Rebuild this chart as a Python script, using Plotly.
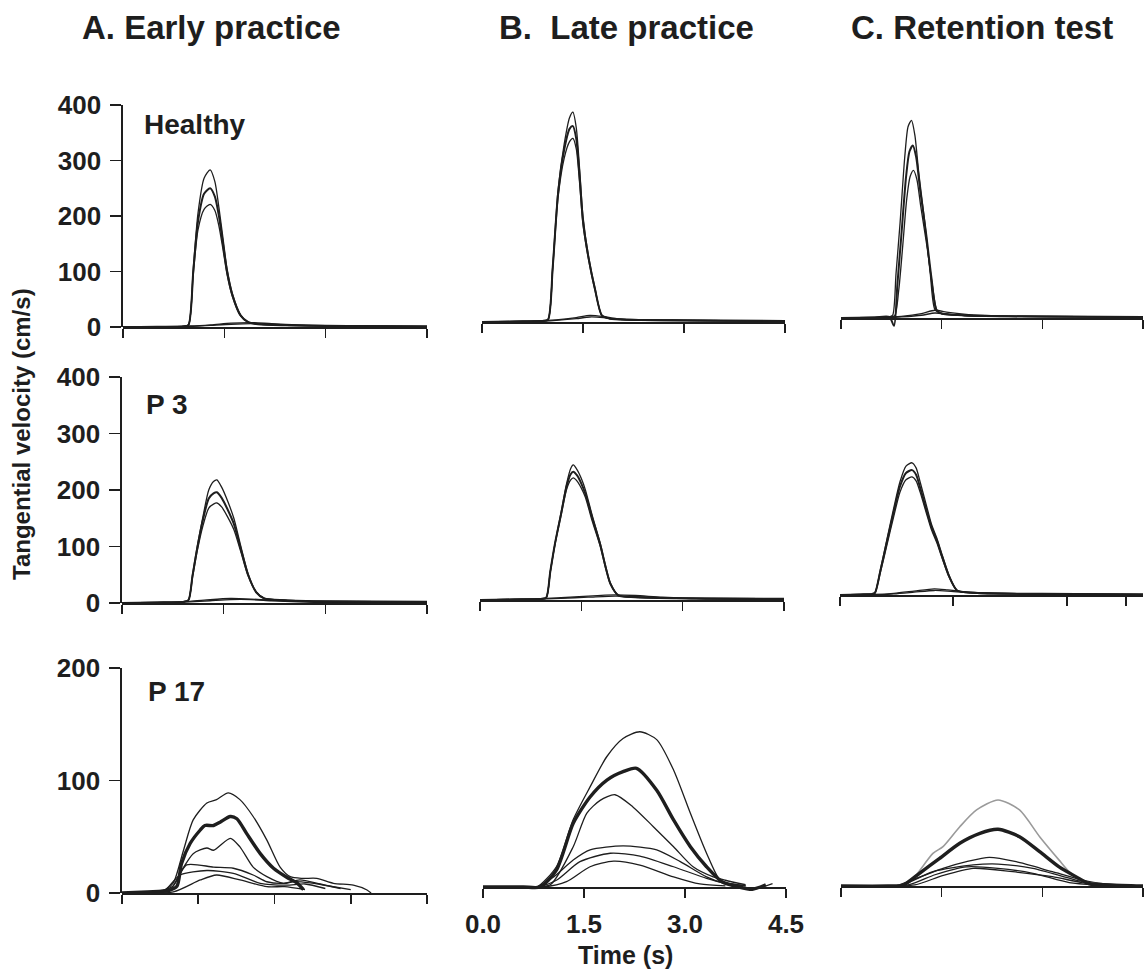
import plotly.graph_objects as go

W, H = 1144, 974
FONT = "Liberation Sans, Arial, Helvetica, sans-serif"
INK = "#1e1e1e"

# ---------------- data: time (s) and tangential velocity (cm/s) ----------------
# Healthy - early practice
hA_t = [0, 0.5, 0.9, 0.97, 1.04, 1.11, 1.2, 1.29, 1.36, 1.42, 1.48, 1.54, 1.62, 1.74, 1.85, 2.0, 2.4, 3.0, 4.5]
hA_v1 = [0, 0, 1, 4, 105, 205, 268, 283, 262, 215, 160, 105, 60, 22, 9, 5, 3, 2, 1]
hA_v2 = [0, 0, 1, 4, 100, 190, 240, 250, 235, 200, 150, 100, 57, 21, 9, 5, 3, 2, 1]
hA_v3 = [0, 0, 1, 4, 95, 175, 212, 221, 210, 182, 140, 95, 55, 20, 9, 5, 3, 2, 1]
hA_ts = [0, 0.5, 1.0, 1.3, 1.6, 1.9, 2.2, 2.6, 3.0, 3.6, 4.5]
hA_s1 = [0, 1, 2, 4, 7, 8, 6, 4, 3, 2, 1]
hA_s2 = [0, 0, 1, 3, 5, 6, 5, 3, 2, 1, 0]

# Healthy - late practice
hB_t = [0, 0.5, 0.9, 0.98, 1.05, 1.13, 1.22, 1.30, 1.35, 1.40, 1.45, 1.50, 1.58, 1.68, 1.78, 1.9, 2.2, 3.0, 4.5]
hB_v1 = [0, 1, 2, 4, 100, 238, 320, 368, 378, 350, 275, 190, 120, 60, 12, 6, 4, 3, 2]
hB_v2 = [0, 1, 2, 4, 98, 232, 310, 348, 353, 330, 262, 182, 117, 58, 12, 6, 4, 3, 2]
hB_v3 = [0, 1, 2, 4, 95, 225, 295, 325, 331, 312, 250, 176, 114, 56, 12, 6, 4, 3, 2]
hB_ts = [0, 0.8, 1.1, 1.4, 1.6, 1.8, 2.0, 2.4, 3.0, 4.5]
hB_s1 = [0, 2, 4, 8, 12, 10, 6, 4, 3, 2]
hB_s2 = [0, 1, 3, 6, 9, 8, 5, 3, 2, 1]

# Healthy - retention test
hC_t1 = [0, 0.5, 0.72, 0.77, 0.82, 0.88, 0.95, 1.0, 1.05, 1.1, 1.16, 1.25, 1.33, 1.40, 1.5, 1.8, 2.5, 4.5]
hC_v1 = [0, 1, 2, 5, 80, 171, 290, 345, 356, 330, 260, 171, 80, 15, 8, 5, 3, 2]
hC_t2 = [0, 0.5, 0.72, 0.79, 0.84, 0.90, 0.97, 1.02, 1.07, 1.12, 1.18, 1.27, 1.35, 1.42, 1.5, 1.8, 2.5, 4.5]
hC_v2 = [0, 1, 2, -14, 60, 150, 255, 300, 311, 290, 230, 150, 70, 15, 8, 5, 3, 2]
hC_t3 = [0, 0.5, 0.72, 0.80, 0.86, 0.92, 0.98, 1.03, 1.08, 1.13, 1.19, 1.28, 1.36, 1.43, 1.5, 1.8, 2.5, 4.5]
hC_v3 = [0, 1, 2, 4, 50, 130, 215, 255, 266, 250, 200, 130, 60, 14, 8, 5, 3, 2]
hC_ts = [0, 0.6, 0.9, 1.2, 1.4, 1.6, 1.9, 2.3, 3.0, 4.5]
hC_s1 = [0, 1, 3, 8, 14, 10, 6, 4, 3, 2]
hC_s2 = [0, 0, 2, 5, 9, 7, 4, 3, 2, 1]

# P 3 - early practice
pA_t = [0, 0.5, 0.9, 0.98, 1.04, 1.11, 1.19, 1.28, 1.35, 1.40, 1.47, 1.56, 1.65, 1.75, 1.86, 1.98, 2.1, 2.4, 3.0, 4.5]
pA_v1 = [0, 1, 2, 5, 50, 100, 150, 200, 215, 218, 205, 180, 150, 102, 52, 20, 8, 5, 3, 2]
pA_v2 = [0, 1, 2, 5, 48, 97, 145, 185, 194, 196, 186, 165, 140, 97, 50, 19, 8, 5, 3, 2]
pA_v3 = [0, 1, 2, 5, 45, 92, 135, 168, 175, 177, 170, 152, 130, 92, 48, 19, 8, 5, 3, 2]
pA_ts = [0, 0.6, 1.0, 1.3, 1.6, 1.9, 2.2, 2.6, 3.0, 4.5]
pA_s1 = [0, 1, 3, 6, 8, 7, 5, 3, 2, 1]
pA_s2 = [0, 0, 2, 4, 6, 6, 4, 2, 1, 0]

# P 3 - late practice
pB_t = [0, 0.5, 0.9, 0.98, 1.04, 1.11, 1.20, 1.28, 1.34, 1.38, 1.44, 1.50, 1.56, 1.66, 1.78, 1.86, 1.93, 2.05, 2.3, 3.0, 4.5]
pB_v1 = [0, 1, 2, 4, 50, 100, 155, 205, 232, 239, 230, 215, 195, 150, 100, 60, 30, 8, 5, 3, 2]
pB_v2 = [0, 1, 2, 4, 50, 100, 152, 200, 222, 227, 220, 206, 188, 146, 98, 58, 29, 8, 5, 3, 2]
pB_v3 = [0, 1, 2, 4, 49, 98, 150, 195, 212, 216, 210, 198, 182, 140, 95, 56, 28, 8, 5, 3, 2]
pB_ts = [0, 0.8, 1.2, 1.6, 2.0, 2.3, 2.7, 3.2, 4.5]
pB_s1 = [0, 2, 4, 7, 9, 8, 5, 3, 2]
pB_s2 = [0, 1, 3, 5, 7, 6, 4, 2, 1]

# P 3 - retention test
pC_t = [0, 0.3, 0.48, 0.52, 0.60, 0.70, 0.80, 0.89, 0.98, 1.07, 1.13, 1.19, 1.28, 1.36, 1.44, 1.52, 1.62, 1.74, 2.0, 3.0, 4.5]
pC_v1 = [0, 1, 2, 4, 45, 100, 155, 200, 228, 234, 225, 200, 160, 125, 100, 70, 35, 8, 4, 2, 1]
pC_v2 = [0, 1, 2, 4, 43, 96, 148, 192, 216, 221, 213, 190, 152, 120, 96, 67, 33, 8, 4, 2, 1]
pC_v3 = [0, 1, 2, 4, 40, 90, 140, 182, 204, 209, 202, 182, 146, 115, 92, 64, 32, 8, 4, 2, 1]
pC_ts = [0, 0.5, 0.8, 1.1, 1.4, 1.6, 1.9, 2.3, 3.0, 4.5]
pC_s1 = [0, 1, 3, 7, 11, 9, 5, 3, 2, 1]
pC_s2 = [0, 0, 2, 5, 8, 7, 4, 2, 1, 0]

# P 17 - early practice
qA_tm = [0, 0.5, 0.9, 1.08, 1.17, 1.34, 1.54, 1.63, 1.80, 1.93, 2.13, 2.26, 2.45, 2.72, 2.98, 3.24, 3.44, 3.57]
qA_vm = [0, 1, 2, 6, 26, 44, 56, 60, 60, 63, 68, 66, 53, 35, 22, 14, 9, 3]
qA_t1 = [0, 0.5, 0.85, 1.01, 1.21, 1.40, 1.67, 1.86, 2.09, 2.32, 2.58, 2.85, 3.11, 3.31, 3.55, 3.83, 4.16, 4.55, 4.82, 4.9]
qA_v1 = [0, 1, 3, 9, 38, 65, 80, 83, 89, 83, 68, 47, 23, 14.5, 13, 13, 8.6, 7, 2.7, 0]
qA_t2 = [0, 0.6, 0.95, 1.14, 1.40, 1.67, 1.80, 2.13, 2.32, 2.58, 2.85, 3.18, 3.37, 3.7, 4.1, 4.5]
qA_v2 = [0, 1, 3, 17.5, 35, 40, 38, 48.6, 41, 23, 14.5, 8.6, 10, 9, 6, 3]
qA_t3 = [0, 0.7, 1.0, 1.27, 1.80, 2.19, 2.58, 2.85, 3.18, 3.5, 3.9, 4.3]
qA_v3 = [0, 1, 6, 25, 23, 22, 16, 10, 8.6, 11.6, 8, 4]
qA_t4 = [0, 0.8, 1.14, 1.67, 2.19, 2.72, 3.24, 3.6, 4.0]
qA_v4 = [0, 1, 16, 20, 17.5, 8.6, 7, 8, 4]
qA_t5 = [0, 1.01, 1.54, 1.86, 2.32, 2.85, 3.2, 3.6]
qA_v5 = [0, 1, 11.6, 16, 11.6, 5.6, 5.6, 3]

# P 17 - late practice
qB_t1 = [0, 0.6, 0.80, 1.09, 1.34, 1.59, 1.84, 2.08, 2.33, 2.58, 2.83, 3.08, 3.32, 3.52, 3.7, 4.0, 4.3]
qB_v1 = [0, 0, 0, 18, 60, 89, 116, 132, 138, 131, 104, 65.5, 30, 6, 1, -2, 3]
qB_tm = [0, 0.6, 0.85, 1.09, 1.34, 1.59, 1.84, 2.08, 2.28, 2.58, 2.83, 3.08, 3.32, 3.55, 3.8, 4.0, 4.2]
qB_vm = [0, 0, 0, 15, 56.6, 80, 95, 102.5, 105.5, 86, 59.6, 35.8, 18, 4.7, 0, -2, 2]
qB_t2 = [0, 0.7, 1.0, 1.34, 1.54, 1.74, 1.96, 2.23, 2.53, 2.83, 3.12, 3.42, 3.6, 3.9]
qB_v2 = [0, 0, 2, 35.8, 65.5, 77, 82, 71, 53.6, 35.8, 18, 9, 6, 2]
qB_t3 = [0, 0.8, 1.05, 1.34, 1.59, 2.08, 2.58, 2.93, 3.32, 3.55, 3.9]
qB_v3 = [0, 0, 9, 24, 33, 36.5, 33, 22.5, 9, 4, 1]
qB_t4 = [0, 0.8, 1.09, 1.44, 1.89, 2.33, 2.83, 3.32, 3.55, 3.9]
qB_v4 = [0, 0, 6, 22.5, 30, 27.5, 18, 7.7, 4, 1]
qB_t5 = [0, 0.9, 1.24, 1.59, 1.94, 2.33, 2.83, 3.22, 3.6]
qB_v5 = [0, 0, 4.7, 18, 23, 19.5, 9, 2.7, 1]

# P 17 - retention test
qC_tg = [0, 0.8, 1.0, 1.12, 1.37, 1.52, 1.77, 2.02, 2.34, 2.66, 2.96, 3.25, 3.40, 3.6, 4.0, 4.5]
qC_vg = [0, 0, 3, 9.8, 29, 35, 52.7, 67.6, 76.5, 67.6, 43.8, 23, 12.7, 4, 1, 0]
qC_tm = [0, 0.7, 0.93, 1.17, 1.47, 1.77, 2.07, 2.34, 2.66, 2.96, 3.25, 3.50, 3.7, 4.0, 4.5]
qC_vm = [0, 0, 0.9, 11.3, 24.6, 38, 46.8, 50.4, 43.8, 30.5, 17, 8.3, 2, 1, 0]
qC_t1 = [0, 0.8, 1.0, 1.52, 1.87, 2.21, 2.61, 3.15, 3.6, 3.9, 4.5]
qC_v1 = [0, 0, 4, 15.7, 21.6, 25.5, 21.6, 12.7, 5.3, 2, 0]
qC_t2 = [0, 0.9, 1.37, 1.97, 2.34, 2.86, 3.5, 3.9]
qC_v2 = [0, 1, 12.7, 18.7, 19.5, 15.7, 5.3, 1]
qC_t3 = [0, 1.0, 1.4, 1.87, 2.34, 2.86, 3.4, 3.8]
qC_v3 = [0, 1, 10, 17, 15.7, 11.3, 3, 1]
qC_t4 = [0, 1.1, 1.5, 1.97, 2.56, 3.15, 3.6, 4.0]
qC_v4 = [0, 1, 9, 15.7, 12.7, 8.3, 3, 1]

column_titles = ["A. Early practice", "B.  Late practice", "C. Retention test"]
row_labels = ["Healthy", "P 3", "P 17"]
yticks_big = [0, 100, 200, 300, 400]
yticks_small = [0, 100, 200]
xticks_std = [0, 1.5, 3.0, 4.5]
xticks_long = [0, 1.5, 3.0, 4.5, 6.0]
xticks_pC = [0, 1.68, 3.37, 4.25]
xtick_text = ["0.0", "1.5", "3.0", "4.5"]

# ---------------- panel geometry (pixels) ----------------
# key: (x_left, x_right, baseline_y, px_per_unit, ymax, xmax, xticks, col)
panels = {
    "hA": (123, 427, 327, 0.555, 400, 4.5, xticks_std, 0),
    "hB": (482, 785, 322, 0.555, 400, 4.5, xticks_std, 1),
    "hC": (841, 1143, 318, 0.555, 400, 4.5, xticks_std, 2),
    "pA": (122, 427, 603, 0.565, 400, 4.5, xticks_std, 0),
    "pB": (480, 784, 600, 0.565, 400, 4.5, xticks_std, 1),
    "pC": (840, 1143, 595, 0.565, 400, 4.5, xticks_pC, 2),
    "qA": (122, 427, 893, 1.125, 200, 6.0, xticks_long, 0),
    "qB": (483, 786, 887, 1.125, 200, 4.5, xticks_std, 1),
    "qC": (841, 1143, 886, 1.125, 200, 4.5, xticks_std, 2),
}

THIN, MID, THICK = 1.3, 2.0, 3.4
traces = {
    "hA": [(hA_ts, hA_s1, THIN, INK), (hA_ts, hA_s2, THIN, INK),
           (hA_t, hA_v1, THIN, INK), (hA_t, hA_v2, MID, INK), (hA_t, hA_v3, THIN, INK)],
    "hB": [(hB_ts, hB_s1, THIN, INK), (hB_ts, hB_s2, THIN, INK),
           (hB_t, hB_v1, THIN, INK), (hB_t, hB_v2, MID, INK), (hB_t, hB_v3, THIN, INK)],
    "hC": [(hC_ts, hC_s1, THIN, INK), (hC_ts, hC_s2, THIN, INK),
           (hC_t1, hC_v1, THIN, INK), (hC_t2, hC_v2, MID, INK), (hC_t3, hC_v3, THIN, INK)],
    "pA": [(pA_ts, pA_s1, THIN, INK), (pA_ts, pA_s2, THIN, INK),
           (pA_t, pA_v1, THIN, INK), (pA_t, pA_v2, MID, INK), (pA_t, pA_v3, THIN, INK)],
    "pB": [(pB_ts, pB_s1, THIN, INK), (pB_ts, pB_s2, THIN, INK),
           (pB_t, pB_v1, THIN, INK), (pB_t, pB_v2, MID, INK), (pB_t, pB_v3, THIN, INK)],
    "pC": [(pC_ts, pC_s1, THIN, INK), (pC_ts, pC_s2, THIN, INK),
           (pC_t, pC_v1, THIN, INK), (pC_t, pC_v2, MID, INK), (pC_t, pC_v3, THIN, INK)],
    "qA": [(qA_t5, qA_v5, THIN, INK), (qA_t4, qA_v4, THIN, INK), (qA_t3, qA_v3, THIN, INK),
           (qA_t2, qA_v2, THIN, INK), (qA_t1, qA_v1, THIN, INK), (qA_tm, qA_vm, THICK, INK)],
    "qB": [(qB_t5, qB_v5, THIN, INK), (qB_t4, qB_v4, THIN, INK), (qB_t3, qB_v3, THIN, INK),
           (qB_t2, qB_v2, THIN, INK), (qB_t1, qB_v1, THIN, INK), (qB_tm, qB_vm, THICK, INK)],
    "qC": [(qC_t4, qC_v4, THIN, INK), (qC_t3, qC_v3, THIN, INK), (qC_t2, qC_v2, THIN, INK),
           (qC_t1, qC_v1, THIN, INK), (qC_tg, qC_vg, 1.6, "#9a9a9a"), (qC_tm, qC_vm, THICK, INK)],
}

fig = go.Figure()
layout = dict(template="none", width=W, height=H, margin=dict(l=0, r=0, t=0, b=0, pad=0),
              paper_bgcolor="white", plot_bgcolor="rgba(0,0,0,0)", showlegend=False,
              hovermode=False)

tickfont = dict(family=FONT, size=26, color=INK, weight="bold")

for i, (key, (xl, xr, base, ppu, ymax, xmax, xt, col)) in enumerate(panels.items()):
    n = i + 1
    xa = "xaxis" if n == 1 else f"xaxis{n}"
    ya = "yaxis" if n == 1 else f"yaxis{n}"
    xr_id = "x" if n == 1 else f"x{n}"
    yr_id = "y" if n == 1 else f"y{n}"
    pad = 0 if col == 0 else 14
    ymin = -pad / ppu
    top_px = base - ymax * ppu
    bot_px = base + pad
    layout[xa] = dict(domain=[xl / W, xr / W], range=[0, xmax], anchor="free",
                      position=1 - base / H, showline=True, linecolor=INK, linewidth=1.6,
                      ticks="outside", ticklen=9, tickwidth=1.6, tickcolor=INK,
                      tickvals=xt, showgrid=False, zeroline=False, automargin=False,
                      showticklabels=(key == "qB"), ticktext=xtick_text if key == "qB" else None,
                      tickfont=tickfont, ticklabelstandoff=4, fixedrange=True)
    ydict = dict(domain=[1 - bot_px / H, 1 - top_px / H], range=[ymin, ymax], anchor=xr_id,
                 showgrid=False, zeroline=False, automargin=False, fixedrange=True)
    if col == 0:
        ydict.update(showline=True, linecolor=INK, linewidth=1.6, ticks="outside",
                     ticklen=11, tickwidth=1.6, tickcolor=INK,
                     tickvals=yticks_big if ymax == 400 else yticks_small,
                     tickfont=tickfont, ticklabelstandoff=4)
    else:
        ydict.update(visible=False)
    layout[ya] = ydict
    for (t, v, w, c) in traces[key]:
        fig.add_trace(go.Scatter(x=t, y=v, mode="lines", xaxis=xr_id, yaxis=yr_id,
                                 line=dict(color=c, width=w, shape="spline", smoothing=0.7),
                                 hoverinfo="skip"))

ann = []
for txt, cx in zip(column_titles, [211, 626, 982]):
    ann.append(dict(text=txt, x=cx / W, y=1 - 28 / H, xref="paper", yref="paper",
                    xanchor="center", yanchor="middle", showarrow=False,
                    font=dict(family=FONT, size=33, color=INK, weight="bold")))
for txt, (lx, ly) in zip(row_labels, [(142, 125), (144, 405), (146, 691)]):
    ann.append(dict(text=txt, x=lx / W, y=1 - ly / H, xref="paper", yref="paper",
                    xanchor="left", yanchor="middle", showarrow=False,
                    font=dict(family=FONT, size=28, color=INK, weight="bold")))
ann.append(dict(text="Tangential velocity (cm/s)", x=21 / W, y=1 - 434 / H, xref="paper",
                yref="paper", xanchor="center", yanchor="middle", textangle=-90, showarrow=False,
                font=dict(family=FONT, size=24, color=INK, weight="bold")))
ann.append(dict(text="Time (s)", x=625 / W, y=1 - 955 / H, xref="paper", yref="paper",
                xanchor="center", yanchor="middle", showarrow=False,
                font=dict(family=FONT, size=25, color=INK, weight="bold")))
layout["annotations"] = ann

fig.update_layout(**layout)
fig.write_html("out.html", config={"displayModeBar": False, "staticPlot": True},
               post_script="document.body.style.margin='0';document.body.style.overflow='hidden';")
